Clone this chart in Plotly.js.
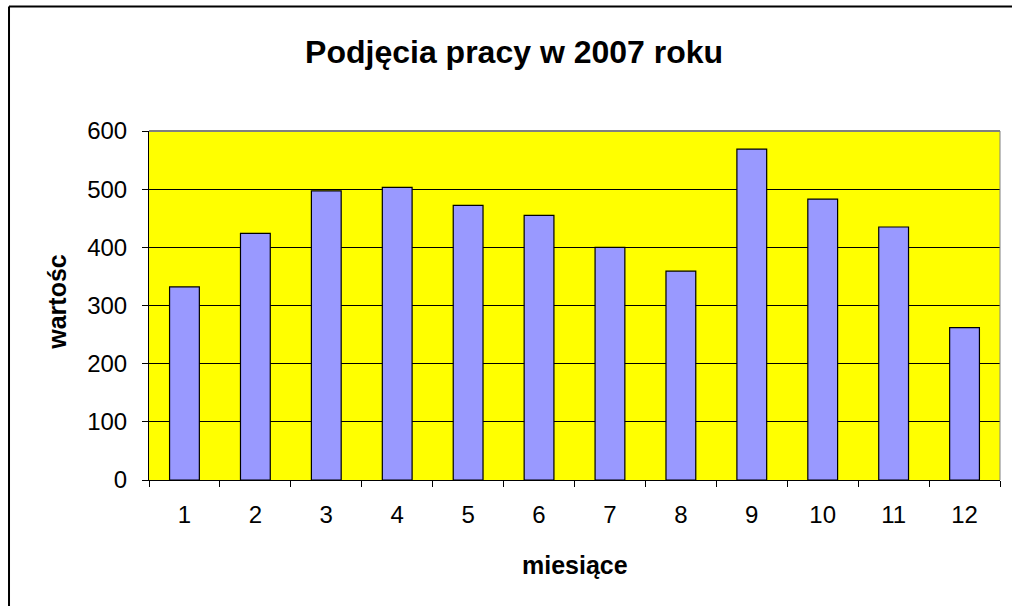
<!DOCTYPE html>
<html>
<head>
<meta charset="utf-8">
<script src="https://cdn.plot.ly/plotly-3.0.1.min.js"></script>
<style>html,body{margin:0;padding:0;background:#fff;}#chart{width:1012px;height:606px;}</style>
</head>
<body>
<div id="chart"></div>
<script>
const months = ["1","2","3","4","5","6","7","8","9","10","11","12"];
const values = [332, 424, 497, 503, 472, 455, 400, 359, 569, 483, 435, 262];
const yTicks = [0, 100, 200, 300, 400, 500, 600];
const titleText = "Podjęcia pracy w 2007 roku";
const xTitle = "miesiące";
const yTitle = "wartośc";

const font = "Liberation Sans, Arial, sans-serif";

const trace = {
  type: "bar",
  x: months,
  y: values,
  marker: {color: "#9999FF", line: {color: "#000000", width: 1.2}},
  hoverinfo: "x+y"
};

const layout = {
  width: 1012, height: 606,
  margin: {l: 149, r: 12, t: 131, b: 126, pad: 0},
  paper_bgcolor: "#FFFFFF",
  plot_bgcolor: "#FFFF00",
  bargap: 0.58,
  showlegend: false,
  title: {text: "<b>" + titleText + "</b>", x: 0.508, xref: "container", y: 0.914, yref: "container", yanchor: "middle",
          font: {family: font, size: 32, color: "#000"}},
  xaxis: {
    type: "category",
    tickson: "boundaries",
    ticks: "outside", ticklen: 6, tickcolor: "#000", tickwidth: 1,
    showline: true, linecolor: "#000", linewidth: 1,
    showgrid: false, zeroline: false,
    tickfont: {family: font, size: 24, color: "#000"},
    ticklabelstandoff: 13
  },
  yaxis: {
    range: [0, 600],
    tickvals: yTicks,
    ticks: "outside", ticklen: 6, tickcolor: "#000", tickwidth: 1,
    showline: true, linecolor: "#000", linewidth: 1,
    showgrid: true, gridcolor: "#000", gridwidth: 1,
    zeroline: false,
    tickfont: {family: font, size: 24, color: "#000"},
    ticklabelstandoff: 10
  },
  annotations: [
    {text: "<b>" + xTitle + "</b>", xref: "paper", yref: "paper", x: 0.5, y: -0.243, xanchor: "center", yanchor: "middle",
     showarrow: false, font: {family: font, size: 25, color: "#000"}},
    {text: "<b>" + yTitle + "</b>", xref: "paper", yref: "paper", x: -0.108, y: 0.511, xanchor: "center", yanchor: "middle",
     textangle: -90, showarrow: false, font: {family: font, size: 25, color: "#000"}}
  ],
  shapes: [
    {type: "line", xref: "paper", yref: "paper", x0: 0, x1: 1, y0: 1, y1: 1, line: {color: "#808080", width: 2}},
    {type: "line", xref: "paper", yref: "paper", x0: 1, x1: 1, y0: 0, y1: 1, line: {color: "#808080", width: 1}},
    {type: "line", xref: "paper", yref: "paper", x0: -0.1645, x1: -0.1645, y0: -0.6, y1: 1.357, line: {color: "#000", width: 2}},
    {type: "line", xref: "paper", yref: "paper", x0: -0.1645, x1: 1.1, y0: 1.357, y1: 1.357, line: {color: "#000", width: 2}}
  ]
};

Plotly.newPlot("chart", [trace], layout, {displayModeBar: false, staticPlot: true});
</script>
</body>
</html>
